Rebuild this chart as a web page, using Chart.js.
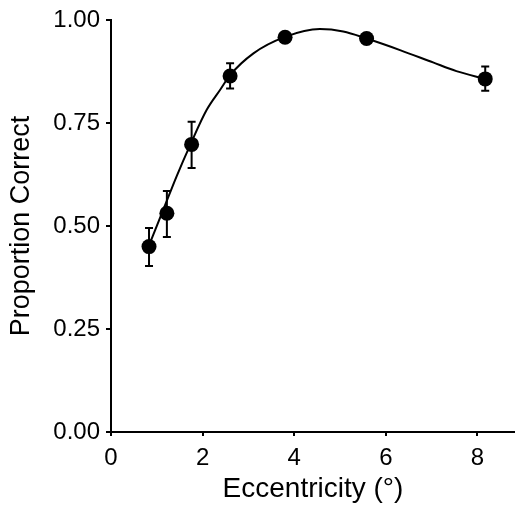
<!DOCTYPE html>
<html>
<head>
<meta charset="utf-8">
<script src="https://cdn.jsdelivr.net/npm/chart.js@4"></script>
<style>
  body { margin: 0; background: #fff; }
  #wrap { width: 515px; height: 509px; }
</style>
</head>
<body>
<div id="wrap"><canvas id="chart" width="515" height="509"></canvas></div>
<script>
// measured points
const eccentricity = [0.83, 1.22, 1.76, 2.60, 3.80, 5.58, 8.17];
const proportion = [0.450, 0.531, 0.698, 0.864, 0.958, 0.955, 0.857];
const errUpper = [0.495, 0.585, 0.753, 0.895, 0.965, 0.962, 0.887];
const errLower = [0.403, 0.473, 0.641, 0.834, 0.951, 0.948, 0.828];

// fitted curve
const fitX = [0.80, 1.14, 1.43, 1.73, 2.09, 2.38, 2.60, 3.11, 3.80,
  4.56, 5.07, 5.58, 6.31, 7.03, 7.54, 8.17];
const fitY = [0.445, 0.539, 0.620, 0.697, 0.782, 0.830, 0.866, 0.919, 0.959,
  0.978, 0.972, 0.955, 0.927, 0.897, 0.876, 0.857];

const xTicks = [0, 2, 4, 6, 8];
const yTicks = [0, 0.25, 0.5, 0.75, 1];

const FONT = '"Liberation Sans", Arial, Helvetica, sans-serif';

const errorBars = {
  id: 'errorBars',
  afterDatasetsDraw(chart) {
    const {ctx, scales: {x, y}} = chart;
    ctx.save();
    ctx.strokeStyle = '#000';
    ctx.lineWidth = 2;
    eccentricity.forEach((e, i) => {
      const px = x.getPixelForValue(e);
      const top = y.getPixelForValue(errUpper[i]);
      const bot = y.getPixelForValue(errLower[i]);
      ctx.beginPath();
      ctx.moveTo(px, top);
      ctx.lineTo(px, bot);
      ctx.moveTo(px - 4, top);
      ctx.lineTo(px + 4, top);
      ctx.moveTo(px - 4, bot);
      ctx.lineTo(px + 4, bot);
      ctx.stroke();
    });
    ctx.restore();
  },
};

new Chart(document.getElementById('chart'), {
  type: 'scatter',
  data: {
    datasets: [{
      data: eccentricity.map((e, i) => ({x: e, y: proportion[i]})),
      pointRadius: 7.5,
      pointBackgroundColor: '#000',
      pointBorderColor: '#000',
      pointBorderWidth: 0,
      showLine: false,
      order: 0,
    }, {
      data: fitX.map((e, i) => ({x: e, y: fitY[i]})),
      showLine: true,
      borderColor: '#000',
      borderWidth: 2,
      pointRadius: 0,
      cubicInterpolationMode: 'monotone',
      order: 1,
    }],
  },
  options: {
    responsive: false,
    animation: false,
    events: [],
    layout: {autoPadding: false, padding: {left: 5, right: 0, top: 20, bottom: 0}},
    plugins: {legend: {display: false}, tooltip: {enabled: false}},
    scales: {
      x: {
        type: 'linear',
        min: 0,
        max: 8.82,
        afterBuildTicks: (s) => { s.ticks = xTicks.map((v) => ({value: v})); },
        afterFit: (s) => { s.height = 77; s.paddingRight = 0; s.paddingLeft = 0; },
        grid: {drawOnChartArea: false, drawTicks: true, tickLength: 4, color: '#000', lineWidth: 2},
        border: {color: '#000', width: 2},
        ticks: {color: '#000', font: {family: FONT, size: 24}, padding: 8, maxRotation: 0},
        title: {display: true, text: 'Eccentricity (°)', color: '#000',
          font: {family: FONT, size: 28}, padding: {top: 0, bottom: 3}},
      },
      y: {
        min: 0,
        max: 1,
        afterBuildTicks: (s) => { s.ticks = yTicks.map((v) => ({value: v})); },
        afterFit: (s) => { s.width = 106; s.paddingTop = 0; s.paddingBottom = 0; },
        grid: {drawOnChartArea: false, drawTicks: true, tickLength: 5, color: '#000', lineWidth: 2},
        border: {color: '#000', width: 2},
        ticks: {color: '#000', font: {family: FONT, size: 24}, padding: 6,
          callback: (v) => v.toFixed(2)},
        title: {display: true, text: 'Proportion Correct', color: '#000',
          font: {family: FONT, size: 27}, padding: {top: 0, bottom: 0}},
      },
    },
  },
  plugins: [errorBars],
});
</script>
</body>
</html>
